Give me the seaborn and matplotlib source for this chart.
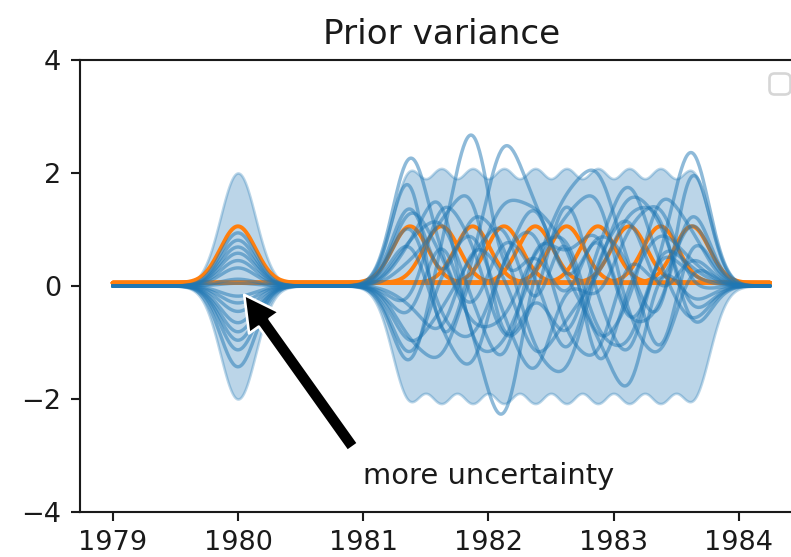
import numpy as np
import pandas as pd
import matplotlib
matplotlib.use("Agg")
import matplotlib.pyplot as plt
import matplotlib.transforms as mtransforms
import seaborn as sns

# Gaussian basis functions: centres in decimal years and a shared width
centres = [1980.0, 1981.375, 1981.625, 1981.875, 1982.125, 1982.375,
           1982.625, 1982.875, 1983.125, 1983.375, 1983.625]
width = 0.14
x_start, x_end = 1979.0, 1984.25

# Weight draws from the N(0, 1) prior, one row per sample curve
# (first column belongs to the 1980 basis function)
weights = [
    [0.94, 2.2, 0.3, -0.5, 0.8, 0.2, -1.2, 0.4, 1.1, -0.3, 0.5],
    [0.81, -1.4, 0.5, 2.6, -0.2, 0.6, -0.4, 1.0, -0.8, 0.3, 2.3],
    [0.69, 2.0, -1.2, 0.3, 2.2, 1.0, 0.1, -0.6, -1.7, 0.5, -0.3],
    [0.58, -0.6, 0.9, -0.6, -2.2, 0.4, 1.2, 1.7, 0.2, -0.8, 2.1],
    [-0.65, 1.4, -0.2, 1.1, 0.6, -0.9, -1.3, 0.3, 1.3, 0.9, -0.5],
    [-0.81, -0.7, -1.1, 0.2, 1.2, 1.0, 0.6, -0.9, -0.3, 1.4, 0.7],
    [-0.96, 0.5, 1.5, -1.0, -0.8, 0.3, 0.9, 1.4, -0.5, -1.1, 0.4],
    [-1.13, -1.2, 0.2, 0.9, -0.4, -1.4, 0.2, -0.3, 0.8, 1.2, -0.1],
    [-1.43, 0.8, -0.6, -1.3, 0.5, 0.9, -0.7, -1.1, 0.6, -0.2, 1.1],
    [0.32, -0.4, 1.3, 0.6, -0.9, -0.3, 1.5, -0.2, -1.2, 0.7, 0.2],
    [-0.30, 1.1, -0.5, -0.8, 0.3, 1.3, -0.2, 0.8, 0.4, -1.3, 0.9],
    [0.12, 0.3, 0.8, 1.5, -1.1, 0.1, -0.9, 0.5, 1.6, 0.2, -0.6],
    [-0.18, -0.9, -0.3, 0.4, 1.0, -0.6, 1.1, -1.5, 0.1, 0.8, 0.3],
    [0.45, 0.6, 1.0, -0.2, -1.3, 0.8, 0.3, 0.9, -0.6, -0.4, 1.3],
    [-0.45, -0.2, -0.8, 0.7, 0.2, -1.1, -0.4, 0.1, 1.0, 1.1, -0.8],
    [0.05, 1.2, 0.4, -0.6, -0.5, 0.5, 0.8, -0.7, -0.9, 0.6, 0.1],
]

year_ticks = [1979, 1980, 1981, 1982, 1983, 1984]
value_ticks = [-4, -2, 0, 2, 4]

# Evaluate the basis on a fine time grid
t = np.linspace(x_start, x_end, 700)
B = np.exp(-0.5 * ((t[:, None] - np.array(centres)[None, :]) / width) ** 2)
W = np.array(weights)
samples = B @ W.T                      # (time, sample)
prior_sd = np.sqrt((B ** 2).sum(axis=1))

basis_df = pd.DataFrame({
    "t": np.tile(t, len(centres)),
    "value": B.T.ravel(),
    "basis": np.repeat(np.arange(len(centres)), len(t)),
})
sample_df = pd.DataFrame({
    "t": np.tile(t, W.shape[0]),
    "value": samples.T.ravel(),
    "sample": np.repeat(np.arange(W.shape[0]), len(t)),
})

sns.set_style("ticks", {"axes.edgecolor": "0.1", "xtick.color": "0.1",
                        "ytick.color": "0.1", "text.color": "0.1"})
dpi = 190
fig = plt.figure(figsize=(791 / dpi, 557 / dpi), dpi=dpi)
ax = fig.add_axes([0.101, 0.0808, 0.914, 0.8115])

blue, orange = sns.color_palette()[0], sns.color_palette()[1]

# +/- 2 prior standard deviations
ax.fill_between(t, -2 * prior_sd, 2 * prior_sd, color=blue, alpha=0.3, lw=1)

# basis functions, nudged up slightly so they stay visible beside the samples
lifted = mtransforms.offset_copy(ax.transData, fig=fig, x=0, y=1.2, units="points")
sns.lineplot(data=basis_df, x="t", y="value", units="basis", estimator=None,
             color=orange, lw=1.5, legend=False, ax=ax, transform=lifted)

# prior sample curves
sns.lineplot(data=sample_df, x="t", y="value", units="sample", estimator=None,
             color=blue, alpha=0.5, lw=1.3, legend=False, ax=ax)

ax.set_ylim(-4, 4)
ax.set_yticks(value_ticks)
ax.set_xticks(year_ticks)
ax.set_xticklabels([str(y) for y in year_ticks])
ax.set_xlabel("")
ax.set_ylabel("")
ax.tick_params(labelsize=10.3)
ax.set_title("Prior variance", fontsize=13)

ax.annotate("more uncertainty", xy=(1980, 0), xytext=(1981, -3.5),
            arrowprops=dict(facecolor="black", shrink=0.05, width=5,
                            headwidth=14, headlength=13),
            fontsize=11)

ax.legend(handles=[], loc="upper right")

fig.savefig("out.png", dpi=dpi)
